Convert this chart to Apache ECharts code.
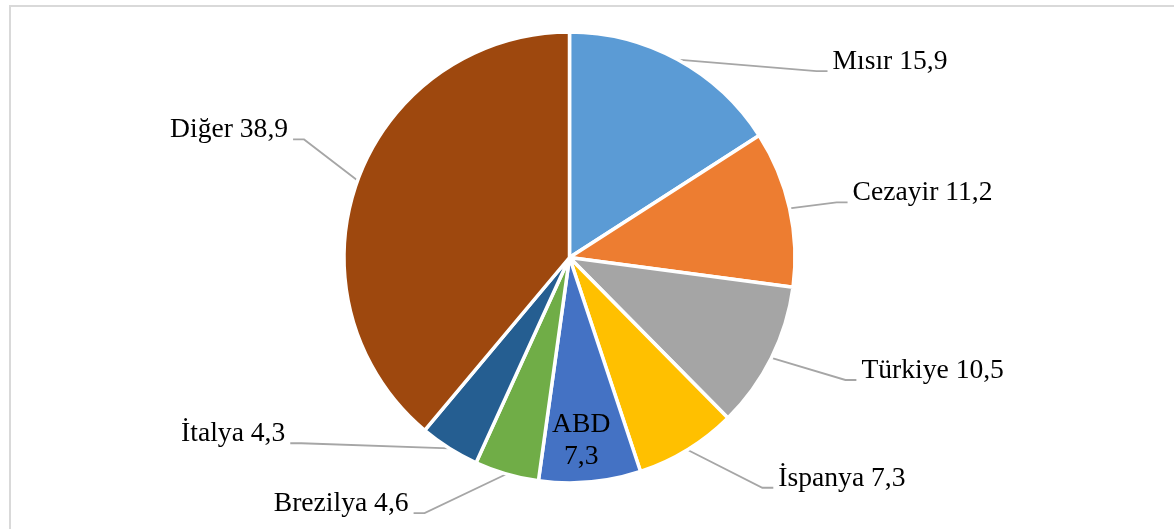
<!DOCTYPE html>
<html>
<head>
<meta charset="utf-8">
<script src="https://cdn.jsdelivr.net/npm/echarts@6/dist/echarts.min.js"></script>
<style>
  html, body { margin: 0; padding: 0; background: #fff; }
  #chart { width: 1174px; height: 529px; }
</style>
</head>
<body>
<div id="chart"></div>
<script>
// data (percent)
const countries = ['Mısır', 'Cezayir', 'Türkiye', 'İspanya', 'ABD', 'Brezilya', 'İtalya', 'Diğer']
const shares = [15.9, 11.2, 10.5, 7.3, 7.3, 4.6, 4.3, 38.9]
const shareLabels = ['15,9', '11,2', '10,5', '7,3', '7,3', '4,6', '4,3', '38,9']
const colors = ['#5B9BD5', '#ED7D31', '#A5A5A5', '#FFC000', '#4472C4', '#70AD47', '#255E91', '#9E480E']

// where each leader line ends, relative to the slice edge (null = label inside the slice)
const labelOffsets = [[150, 11.5], [58, -6], [85, 22], [86, 38], null, [-93, 39], [-159, -5], [-64.5, -41]]

const CX = 569.5, CY = 257.5, R = 225.5

const total = shares.reduce((a, b) => a + b, 0)
const midAngles = []
let acc = 0
shares.forEach(v => { midAngles.push((acc + v / 2) / total * 2 * Math.PI); acc += v })
const edgePoint = (i, f) => [CX + R * f * Math.sin(midAngles[i]), CY - R * f * Math.cos(midAngles[i])]

const chart = echarts.init(document.getElementById('chart'))
chart.setOption({
  animation: false,
  graphic: [{
    type: 'rect', z: -1, silent: true,
    shape: { x: 10, y: 6, width: 1400, height: 800 },
    style: { fill: 'none', stroke: '#d9d9d9', lineWidth: 2 }
  }],
  series: [{
    type: 'pie',
    center: [CX, CY],
    radius: R,
    startAngle: 90,
    clockwise: true,
    avoidLabelOverlap: false,
    emphasis: { disabled: true },
    itemStyle: { borderColor: '#fff', borderWidth: 3.5 },
    label: {
      show: true,
      fontFamily: 'Liberation Serif, Times New Roman, serif',
      fontSize: 27.6,
      color: '#000',
      formatter: p => p.name + ' ' + shareLabels[p.dataIndex]
    },
    labelLine: { show: true, lineStyle: { color: '#a6a6a6', width: 1.8 } },
    data: countries.map((name, i) => {
      const item = { name, value: shares[i], itemStyle: { color: colors[i] } }
      if (!labelOffsets[i]) {
        item.label = { position: 'inside', lineHeight: 31.7, formatter: p => p.name + '\n' + shareLabels[p.dataIndex] }
        item.labelLine = { show: false }
      }
      return item
    }),
    labelLayout: params => {
      const i = params.dataIndex
      const off = labelOffsets[i]
      if (!off) {
        const p = edgePoint(i, 0.815)
        return { x: p[0] - 5, y: p[1], align: 'center', verticalAlign: 'middle' }
      }
      const e = edgePoint(i, 1)
      const end = [e[0] + off[0], e[1] + off[1]]
      const right = off[0] > 0
      const knee = [end[0] + (right ? -11 : 11), end[1]]
      return {
        x: end[0] + (right ? 5 : -5),
        y: end[1] - 9.5,
        align: right ? 'left' : 'right',
        verticalAlign: 'middle',
        labelLinePoints: [e, knee, end]
      }
    }
  }]
})
</script>
</body>
</html>
